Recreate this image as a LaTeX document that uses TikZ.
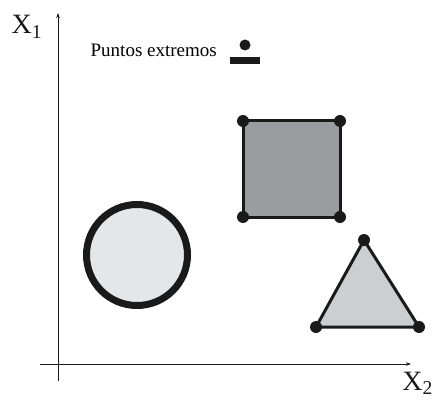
\documentclass[tikz,border=0pt]{standalone}
\usepackage{fontspec}
\setmainfont{Liberation Serif}
\usetikzlibrary{arrows.meta,positioning}
\definecolor{tinta}{HTML}{1A1A1A}
\definecolor{grisosc}{HTML}{9B9C9F}
\definecolor{grismed}{HTML}{CDCED0}
\definecolor{grisclaro}{HTML}{E5E6E8}
\tikzset{
  eje/.style={draw=tinta,line width=0.8pt,-{Stealth[length=5pt,width=3.5pt]}},
  borde/.style={draw=tinta,line width=3pt,line join=round},
  vertice/.style={circle,fill=tinta,inner sep=0pt,minimum size=12pt},
  etiq/.style={font=\fontsize{28}{30}\selectfont,text=tinta,inner sep=0pt},
}

\begin{document}
\begin{tikzpicture}[x=1pt,y=-1pt]
\useasboundingbox (0,0) rectangle (436,401);
% ejes
\coordinate (o1) at (58,381);
\coordinate (e1) at (58,13);
\coordinate (o2) at (40,364);
\coordinate (e2) at (411,364);
\draw[eje] (o1) -- (e1);
\draw[eje] (o2) -- (e2);
\node[etiq,anchor=base] (x1) at (27,34) {X\textsubscript{1}};
\node[etiq,anchor=base east] (x2) at (433,390) {X\textsubscript{2}};
% leyenda
\node[font=\fontsize{19}{21}\selectfont,anchor=base east,inner sep=0pt] (ley) at (217,57) {Puntos extremos};
\node[vertice,minimum size=11pt] (ld) at (245,45) {};
\node[fill=tinta,minimum width=30pt,minimum height=6.5pt,inner sep=0pt] (lb) at (245,60.5) {};
% circulo
\coordinate (cc) at (137,255);
\draw[draw=tinta,line width=7pt,fill=grisclaro] (cc) circle (50.5);
% cuadrado
\coordinate (s1) at (243,121);
\coordinate (s2) at (340,121);
\coordinate (s3) at (340,217);
\coordinate (s4) at (243,217);
\filldraw[borde,fill=grisosc] (s1) -- (s2) -- (s3) -- (s4) -- cycle;
\node[vertice] at (s1) {};
\node[vertice] at (s2) {};
\node[vertice] at (s3) {};
\node[vertice] at (s4) {};
% triangulo
\coordinate (t1) at (364,240);
\coordinate (t2) at (419,327);
\coordinate (t3) at (316,327);
\filldraw[borde,fill=grismed] (t1) -- (t2) -- (t3) -- cycle;
\node[vertice] at (t1) {};
\node[vertice] at (t2) {};
\node[vertice] at (t3) {};
\end{tikzpicture}
\end{document}
